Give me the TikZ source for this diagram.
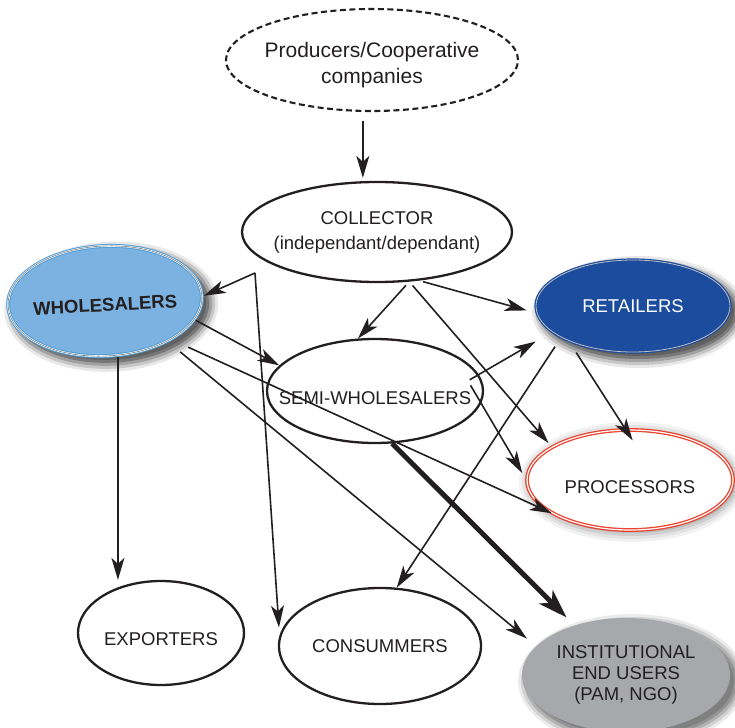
\documentclass[tikz,border=0pt]{standalone}
\usepackage{fontspec}
\setmainfont{Liberation Sans}
\usetikzlibrary{arrows.meta,shapes.geometric}

\definecolor{ink}{RGB}{35,31,32}
\definecolor{wsblue}{RGB}{76,160,219}
\definecolor{wsfill}{RGB}{124,178,225}
\definecolor{rtblue}{RGB}{27,76,158}
\definecolor{prred}{RGB}{234,66,44}
\definecolor{ingray}{RGB}{167,168,171}

% soft shadow under an ellipse: centre x, centre y, x radius, y radius, rotation, darkness
\newcommand\blurshadow[6]{%
  \foreach \d/\g in {10/0.15,7/0.35,4/0.6,1/0.85,-2/1}
    \fill[black!\the\numexpr\fpeval{round(#6*\g)}\relax, rotate around={#5:(#1,#2)}]
      (#1+6,#2+6) ellipse [x radius=#3+\d, y radius=#4+\d];}

\begin{document}
\begin{tikzpicture}[x=1pt, y=-1pt,
    font=\fontsize{18.5}{21}\selectfont,
    ell/.style={ellipse, draw=ink, line width=2.3pt, fill=white, inner sep=0pt},
    lbl/.style={align=center, text=ink},
    fl/.style={draw=ink, line width=1.6pt, -{Stealth[length=22pt, width=13pt, inset=6pt]}},
    thk/.style={fl, line width=5pt, -{Stealth[length=29pt, width=19pt, inset=8pt]}}
  ]
  \useasboundingbox (0,0) rectangle (735,727);

  % shadows
  \blurshadow{105}{301}{97}{55}{3}{62}
  \blurshadow{633}{306}{97}{46}{0}{62}
  \blurshadow{626}{675}{104}{57}{0}{50}
  \blurshadow{626}{476}{103}{50}{0}{32}

  % actors
  \node[ell, dashed, dash pattern=on 6pt off 3.5pt, line width=2.1pt,
        minimum width=292pt, minimum height=102pt,
        label={[lbl, yshift=-5pt, font=\fontsize{21}{26}\selectfont]center:{Producers/Cooperative\\companies}}] (prod) at (372,60) {};
  \node[ell, minimum width=270pt, minimum height=100pt,
        label={[lbl, font=\fontsize{18.5}{25}\selectfont]center:{COLLECTOR\\(independant/dependant)}}] (coll) at (377,232) {};
  \node[ell, draw=wsblue, fill=wsfill, line width=3.8pt, rotate=3,
        minimum width=194pt, minimum height=110pt,
        postaction={draw=white, line width=1.8pt},
        postaction={draw=black!45, line width=0.7pt},
        label={[lbl, rotate=3, yshift=-4pt, font=\fontsize{18.5}{21}\selectfont\bfseries]center:WHOLESALERS}] (whole) at (105,301) {};
  \node[ell, draw=rtblue, fill=rtblue, line width=3.2pt,
        minimum width=194pt, minimum height=92pt,
        postaction={draw=black!25, line width=0.8pt},
        label={[lbl, text=white]center:RETAILERS}] (ret) at (633,306) {};
  \node[ell, minimum width=216pt, minimum height=104pt,
        label={[lbl, yshift=-7pt]center:SEMI-WHOLESALERS}] (semi) at (375,391) {};
  \node[ell, draw=prred, line width=1.3pt, double=white, double distance=1.2pt,
        minimum width=206pt, minimum height=100pt,
        label={[lbl, yshift=-7pt]center:PROCESSORS}] (proc) at (630,480) {};
  \node[ell, minimum width=166pt, minimum height=104pt,
        label={[lbl, yshift=-6pt]center:EXPORTERS}] (expo) at (161,633) {};
  \node[ell, minimum width=202pt, minimum height=116pt,
        label={[lbl]center:CONSUMMERS}] (cons) at (380,646) {};
  \node[ell, draw=none, fill=ingray, minimum width=208pt, minimum height=114pt,
        label={[lbl]center:{INSTITUTIONAL\\END USERS\\(PAM, NGO)}}] (inst) at (626,675) {};

  % flows
  \coordinate (cs) at (255,273);
  \draw[fl, shorten <=9pt, shorten >=3pt] (prod.-100) -- (prod.-100 |- coll.north);
  \draw[fl] (cs) -- (whole.east);
  \draw[fl, shorten >=8pt] (cs) -- (cons.174);
  \draw[fl, shorten <=5pt] (coll.-57) -- (semi.108);
  \draw[fl, shorten <=4pt, shorten >=9pt] (coll.-49) -- (ret.-176);
  \draw[fl, shorten <=5pt, shorten >=5pt] (coll.-57) -- (proc.157);
  \draw[fl] (whole.-15) -- (semi.165);
  \draw[fl, shorten <=17pt] (whole.-33) -- (proc.-157);
  \draw[fl, shorten <=15pt, shorten >=11pt] (whole.-36) -- (inst.162);
  \draw[fl] (whole.-80) -- (whole.-80 |- expo.north);
  \draw[fl, shorten >=18pt] ([xshift=-12pt]semi.6) -- (ret.-162);
  \draw[fl, shorten >=8pt] ([xshift=-13pt]semi.3) -- (proc.west);
  \draw[thk, shorten >=10pt] (semi.-72) -- (inst.136);
  \draw[fl, shorten <=10pt] (ret.-156) -- (cons.74);
  \draw[fl, shorten <=12pt, shorten >=-13pt] (ret.-150) -- (proc.95);
\end{tikzpicture}
\end{document}
